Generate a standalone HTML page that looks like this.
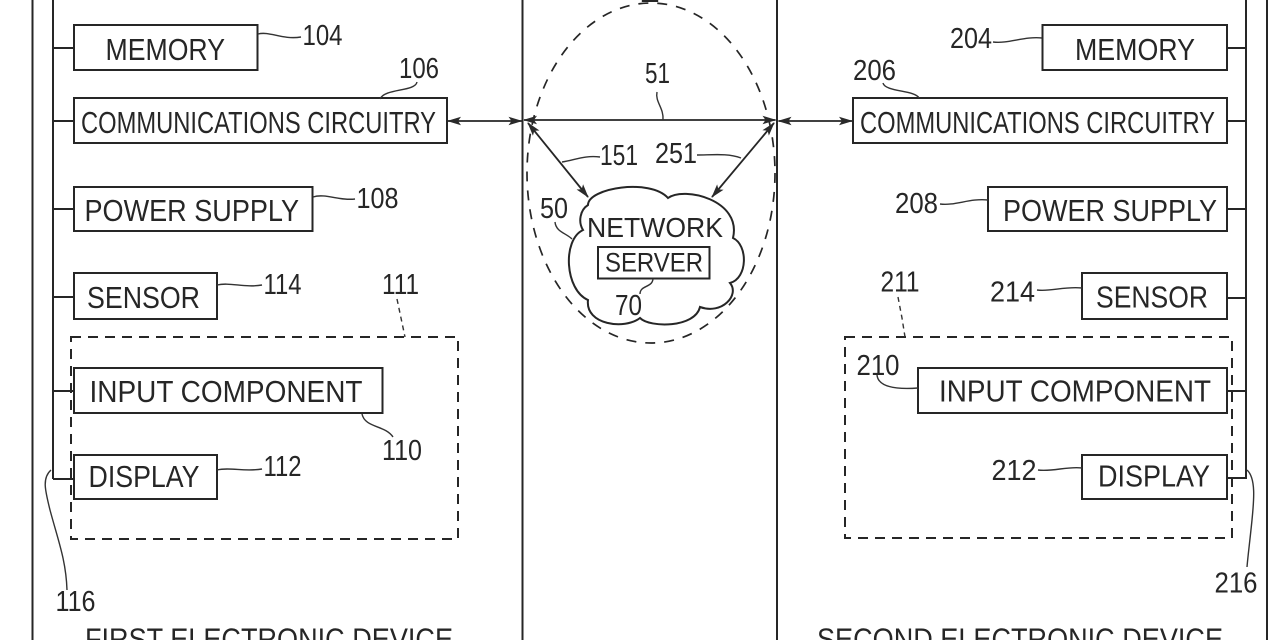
<!DOCTYPE html>
<html>
<head>
<meta charset="utf-8">
<style>
html,body{margin:0;padding:0;background:#fff;}
svg{display:block;}
text{font-family:"Liberation Sans",Arial,sans-serif;fill:#262626;}
.b{font-size:31px;}
.n{font-size:29px;}
</style>
</head>
<body>
<svg width="1280" height="640" viewBox="0 0 1280 640" xmlns="http://www.w3.org/2000/svg">
<defs>
<marker id="ah" viewBox="0 0 14 10" refX="13" refY="5" markerWidth="14" markerHeight="10" markerUnits="userSpaceOnUse" orient="auto-start-reverse">
<path d="M0,0.8 L14,5 L0,9.2 L3,5 Z" fill="#2a2a2a"/>
</marker>
</defs>
<rect width="1280" height="640" fill="#fff"/>
<g stroke="#262626" fill="none" stroke-width="2">
<!-- device frames -->
<line x1="32.5" y1="0" x2="32.5" y2="640"/>
<line x1="522.5" y1="0" x2="522.5" y2="640"/>
<line x1="777" y1="0" x2="777" y2="640"/>
<line x1="1267" y1="0" x2="1267" y2="640"/>
<!-- buses -->
<line x1="53" y1="0" x2="53" y2="479"/>
<line x1="1246" y1="0" x2="1246" y2="479"/>
<!-- left connectors -->
<line x1="53" y1="48" x2="74" y2="48"/>
<line x1="53" y1="121" x2="74" y2="121"/>
<line x1="53" y1="209" x2="74" y2="209"/>
<line x1="53" y1="297" x2="74" y2="297"/>
<line x1="53" y1="391" x2="74" y2="391"/>
<line x1="53" y1="479" x2="74" y2="479"/>
<!-- right connectors -->
<line x1="1227" y1="48" x2="1246" y2="48"/>
<line x1="1227" y1="121" x2="1246" y2="121"/>
<line x1="1227" y1="209" x2="1246" y2="209"/>
<line x1="1227" y1="298" x2="1246" y2="298"/>
<line x1="1227" y1="391" x2="1246" y2="391"/>
<line x1="1227" y1="478" x2="1246" y2="478"/>
<!-- left boxes -->
<rect x="74" y="25" width="183.5" height="45"/>
<rect x="74" y="98" width="373" height="45"/>
<rect x="74" y="187" width="238.5" height="44"/>
<rect x="74" y="273" width="143" height="46"/>
<rect x="74" y="368" width="308.5" height="45"/>
<rect x="74" y="455" width="143" height="44"/>
<!-- right boxes -->
<rect x="1042.5" y="25" width="184.5" height="45"/>
<rect x="853" y="98" width="374" height="45"/>
<rect x="988" y="187" width="239" height="44"/>
<rect x="1082" y="273" width="145" height="46"/>
<rect x="918" y="368" width="309" height="45"/>
<rect x="1082" y="455" width="145" height="44"/>
<!-- dashed groups -->
<rect x="71" y="337" width="387" height="202" stroke-dasharray="10 7"/>
<rect x="845" y="337" width="387" height="201" stroke-dasharray="10 7"/>
<!-- dashed ellipse -->
<ellipse cx="651" cy="173" rx="124" ry="170" stroke-width="1.7" stroke-dasharray="10 9"/>
<!-- cloud -->
<path d="M588 205 C588 188 650 178 668 198 C684 186 742 200 733 238 C748 245 748 278 730 283 C740 295 722 315 700 307 C695 328 650 328 640 318 C625 330 585 325 588 300 C565 290 562 240 583 230 C578 222 580 210 588 205 Z"/>
<rect x="598" y="247" width="111.5" height="31.5"/>
<!-- arrows -->
<line x1="448" y1="121" x2="521.5" y2="121" marker-start="url(#ah)" marker-end="url(#ah)" stroke-width="1.8"/>
<line x1="524" y1="120" x2="775.5" y2="120" marker-start="url(#ah)" marker-end="url(#ah)" stroke-width="1.8"/>
<line x1="778.5" y1="121" x2="852" y2="121" marker-start="url(#ah)" marker-end="url(#ah)" stroke-width="1.8"/>
<line x1="528" y1="123" x2="588" y2="197" marker-start="url(#ah)" marker-end="url(#ah)" stroke-width="1.8"/>
<line x1="774" y1="123" x2="712" y2="197" marker-start="url(#ah)" marker-end="url(#ah)" stroke-width="1.8"/>
</g>
<!-- leaders -->
<g stroke="#333" fill="none" stroke-width="1.4">
<path d="M258 34 C270 31 282 40 301 37"/>
<path d="M417 82 C415 92 385 88 380 99"/>
<path d="M313 197 C325 193 340 201 355 199"/>
<path d="M217 285 C230 282 245 288 262 285"/>
<path d="M397 299 L401 318 L405 337" stroke-dasharray="5 4"/>
<path d="M362 414 C365 428 385 425 393 437"/>
<path d="M217 470 C230 467 245 472 262 469"/>
<path d="M51 470 C42 478 45 490 50 510 C58 540 66 560 67 590"/>
<path d="M993 42 C1008 44 1025 36 1042 38"/>
<path d="M883 83 C885 92 915 90 919 98"/>
<path d="M940 204 C955 206 970 198 988 200"/>
<path d="M1037 290 C1050 292 1065 286 1082 288"/>
<path d="M898 297 L902 318 L905 337" stroke-dasharray="5 4"/>
<path d="M877 375 C878 385 890 390 918 388"/>
<path d="M1038 470 C1052 472 1068 466 1082 468"/>
<path d="M1247 470 C1256 478 1254 500 1252 520 C1250 540 1248 555 1247 567"/>
<path d="M657 92 C655 102 664 108 663 120"/>
<path d="M600 157 C585 155 575 160 562 162"/>
<path d="M697 155 C712 155 728 153 741 158"/>
<path d="M555 222 C556 232 566 233 572 239"/>
<path d="M640 294 C640 285 652 288 653 279"/>
</g>
<!-- left texts -->
<text class="b" x="105.5" y="60" textLength="119.5" lengthAdjust="spacingAndGlyphs">MEMORY</text>
<text class="b" x="81" y="133" textLength="355" lengthAdjust="spacingAndGlyphs">COMMUNICATIONS CIRCUITRY</text>
<text class="b" x="84.5" y="221" textLength="214.5" lengthAdjust="spacingAndGlyphs">POWER SUPPLY</text>
<text class="b" x="87" y="308" textLength="113" lengthAdjust="spacingAndGlyphs">SENSOR</text>
<text class="b" x="89.5" y="402" textLength="273" lengthAdjust="spacingAndGlyphs">INPUT COMPONENT</text>
<text class="b" x="88.5" y="487" textLength="111" lengthAdjust="spacingAndGlyphs">DISPLAY</text>
<text class="n" x="302.5" y="45" textLength="40" lengthAdjust="spacingAndGlyphs">104</text>
<text class="n" x="399" y="78" textLength="40" lengthAdjust="spacingAndGlyphs">106</text>
<text class="n" x="356.5" y="208" textLength="42" lengthAdjust="spacingAndGlyphs">108</text>
<text class="n" x="263.5" y="294" textLength="38" lengthAdjust="spacingAndGlyphs">114</text>
<text class="n" x="382" y="294" textLength="37" lengthAdjust="spacingAndGlyphs">111</text>
<text class="n" x="382" y="460" textLength="40" lengthAdjust="spacingAndGlyphs">110</text>
<text class="n" x="263.5" y="476" textLength="38" lengthAdjust="spacingAndGlyphs">112</text>
<text class="n" x="55.5" y="611" textLength="40" lengthAdjust="spacingAndGlyphs">116</text>
<text class="b" x="85" y="649.5" textLength="368" lengthAdjust="spacingAndGlyphs">FIRST ELECTRONIC DEVICE</text>
<!-- right texts -->
<text class="b" x="1075" y="60" textLength="120" lengthAdjust="spacingAndGlyphs">MEMORY</text>
<text class="b" x="860" y="133" textLength="355" lengthAdjust="spacingAndGlyphs">COMMUNICATIONS CIRCUITRY</text>
<text class="b" x="1003" y="221" textLength="214" lengthAdjust="spacingAndGlyphs">POWER SUPPLY</text>
<text class="b" x="1096" y="307.5" textLength="112" lengthAdjust="spacingAndGlyphs">SENSOR</text>
<text class="b" x="939" y="401.5" textLength="272" lengthAdjust="spacingAndGlyphs">INPUT COMPONENT</text>
<text class="b" x="1098" y="486.5" textLength="112" lengthAdjust="spacingAndGlyphs">DISPLAY</text>
<text class="n" x="950" y="48" textLength="42" lengthAdjust="spacingAndGlyphs">204</text>
<text class="n" x="853" y="80" textLength="43" lengthAdjust="spacingAndGlyphs">206</text>
<text class="n" x="895" y="213" textLength="43" lengthAdjust="spacingAndGlyphs">208</text>
<text class="n" x="990" y="301.5" textLength="45" lengthAdjust="spacingAndGlyphs">214</text>
<text class="n" x="880.5" y="291.5" textLength="39" lengthAdjust="spacingAndGlyphs">211</text>
<text class="n" x="856.5" y="375" textLength="43" lengthAdjust="spacingAndGlyphs">210</text>
<text class="n" x="991.5" y="480" textLength="45" lengthAdjust="spacingAndGlyphs">212</text>
<text class="n" x="1214.5" y="592.5" textLength="43" lengthAdjust="spacingAndGlyphs">216</text>
<text class="b" x="817" y="649.5" textLength="406" lengthAdjust="spacingAndGlyphs">SECOND ELECTRONIC DEVICE</text>
<!-- middle texts -->
<text class="n" x="640" y="2" textLength="20" lengthAdjust="spacingAndGlyphs">2</text>
<text class="n" x="645" y="83" textLength="25" lengthAdjust="spacingAndGlyphs">51</text>
<text class="n" x="600" y="165" textLength="38" lengthAdjust="spacingAndGlyphs">151</text>
<text class="n" x="655" y="163" textLength="42" lengthAdjust="spacingAndGlyphs">251</text>
<text class="n" x="540" y="218" textLength="28" lengthAdjust="spacingAndGlyphs">50</text>
<text x="587" y="237" font-size="28" textLength="136" lengthAdjust="spacingAndGlyphs">NETWORK</text>
<text x="605" y="271.5" font-size="26.5" textLength="98" lengthAdjust="spacingAndGlyphs">SERVER</text>
<text class="n" x="615" y="315" textLength="27" lengthAdjust="spacingAndGlyphs">70</text>
</svg>
</body>
</html>
